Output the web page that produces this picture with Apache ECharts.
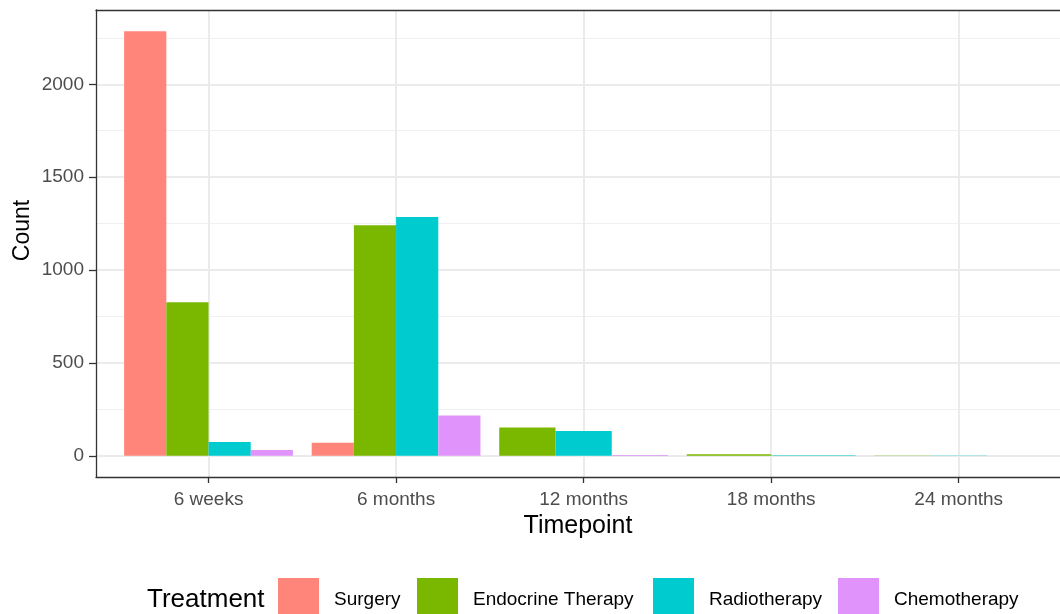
<!DOCTYPE html>
<html>
<head>
<meta charset="utf-8">
<script src="https://cdn.jsdelivr.net/npm/echarts@6/dist/echarts.min.js"></script>
<style>
  html, body { margin: 0; padding: 0; background: #fff; }
  #chart { width: 1060px; height: 614px; }
</style>
</head>
<body>
<div id="chart"></div>
<script>
const categories = ['6 weeks', '6 months', '12 months', '18 months', '24 months'];
const treatments = ['Surgery', 'Endocrine Therapy', 'Radiotherapy', 'Chemotherapy'];
// null = no bar for that timepoint (ggplot dodge widens the rest)
const surgery = [2286, 70, null, null, null];
const endocrine = [827, 1241, 153, 8, 2];
const radiotherapy = [75, 1286, 133, 3, 2];
const chemotherapy = [31, 217, 4, null, 1];
const yTicks = [0, 500, 1000, 1500, 2000];
const yMinorTicks = [250, 750, 1250, 1750, 2250];

const colors = ['#FF857A', '#7AB800', '#00CCD0', '#E193FC'];
const allValues = [surgery, endocrine, radiotherapy, chemotherapy];

// work out dodge slot of each bar inside its timepoint
function dodgeData(s) {
  const out = [];
  categories.forEach(function (c, i) {
    const present = [];
    allValues.forEach(function (vals, k) {
      if (vals[i] != null) present.push(k);
    });
    if (allValues[s][i] == null) return;
    out.push([i, allValues[s][i], present.indexOf(s), present.length]);
  });
  return out;
}

function renderBar(params, api) {
  const x = api.value(0);
  const v = api.value(1);
  const slot = api.value(2);
  const n = api.value(3);
  const band = api.size([1, 0])[0];
  const total = band * 0.9;
  const w = total / n;
  const base = api.coord([x, 0]);
  const top = api.coord([x, v]);
  return {
    type: 'rect',
    shape: { x: base[0] - total / 2 + slot * w, y: top[1], width: w, height: base[1] - top[1] },
    style: { fill: api.visual('color') }
  };
}

const legendLeft = [278, 417, 653, 838];
const border = { show: true, onZero: false, lineStyle: { color: '#333333', width: 1.3 } };

const chart = echarts.init(document.getElementById('chart'));
chart.setOption({
  color: colors,
  animation: false,
  textStyle: { fontFamily: 'Liberation Sans, Arial, sans-serif' },
  grid: { left: 96, top: 10, right: 0, height: 467 },
  legend: treatments.map(function (t, i) {
    return {
      data: [t],
      left: legendLeft[i], top: 578,
      padding: 0,
      icon: 'rect', itemWidth: 41, itemHeight: 44,
      selectedMode: false,
      textStyle: { fontSize: 19, color: '#000', padding: [0, 0, 0, 10] }
    };
  }),
  graphic: [{
    type: 'text', left: 147, top: 587,
    style: { text: 'Treatment', fontSize: 26, fill: '#000', fontFamily: 'Liberation Sans, Arial, sans-serif' }
  }],
  xAxis: [
    {
      type: 'value',
      min: -0.6, max: 4.54,
      name: 'Timepoint',
      nameLocation: 'middle',
      nameGap: 34,
      nameTextStyle: { fontSize: 25, color: '#000' },
      axisLine: border,
      axisTick: { show: true, length: 6, customValues: [0, 1, 2, 3, 4], lineStyle: { color: '#333', width: 1.3 } },
      axisLabel: {
        customValues: [0, 1, 2, 3, 4], margin: 13, fontSize: 19, color: '#4D4D4D',
        formatter: function (v) { return categories[v]; }
      },
      splitLine: { show: true, lineStyle: { color: '#EBEBEB', width: 2 } }
    },
    {
      // top edge of the panel box
      type: 'value',
      position: 'top',
      min: -0.6, max: 4.54,
      axisLine: border,
      axisTick: { show: false },
      axisLabel: { show: false },
      splitLine: { show: false }
    }
  ],
  yAxis: [
    {
      type: 'value',
      min: -114, max: 2400,
      name: 'Count',
      nameLocation: 'middle',
      nameGap: 62,
      nameMoveOverlap: false,
      nameTextStyle: { fontSize: 23, color: '#000', padding: [0, 0, 0, 26] },
      axisLine: border,
      axisTick: { show: true, length: 7, customValues: yTicks, lineStyle: { color: '#333', width: 1.3 } },
      axisLabel: {
        customValues: yTicks, margin: 12, fontSize: 19, color: '#4D4D4D',
        formatter: function (v) { return String(v); }
      },
      splitLine: { show: true, lineStyle: { color: '#EBEBEB', width: 2 } }
    },
    {
      type: 'value',
      min: -114, max: 2400,
      position: 'left',
      axisLine: { show: false, onZero: false },
      axisTick: { show: false, customValues: yMinorTicks },
      axisLabel: { show: false, customValues: yMinorTicks },
      splitLine: { show: true, lineStyle: { color: '#F0F0F0', width: 1 } }
    }
  ],
  series: treatments.map(function (t, s) {
    return {
      name: t,
      type: 'custom',
      renderItem: renderBar,
      encode: { x: 0, y: 1 },
      data: dodgeData(s),
      z: 3
    };
  })
});
</script>
</body>
</html>
